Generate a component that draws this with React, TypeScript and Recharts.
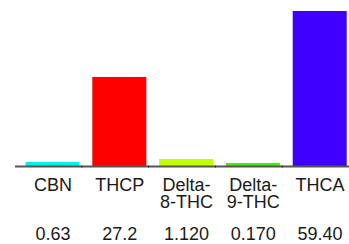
import { BarChart, Bar, XAxis, YAxis, Cell } from "recharts";

// ── data ──────────────────────────────────────────────────────────────────────
const categories = ["CBN", "THCP", "Delta-8-THC", "Delta-9-THC", "THCA"];
const labelLines = [["CBN"], ["THCP"], ["Delta-", "8-THC"], ["Delta-", "9-THC"], ["THCA"]];
const valueLabels = ["0.63", "27.2", "1.120", "0.170", "59.40"];
// bar heights as drawn (not proportional to the printed values)
const barHeights = [1.72, 34.2, 2.86, 1.34, 59.4];
const colors = ["#00f0f0", "#ff0000", "#c0ff00", "#44ee00", "#4000ff"];

// ── layout ────────────────────────────────────────────────────────────────────
const W = 349;
const H = 244;
const LEFT = 15;
const AXIS_H = 77.5;
const BASE_Y = H - AXIS_H;
const BAND = (W - LEFT) / categories.length;
const SHIFT = 4.5;
const FONT = "'Liberation Sans', Arial, Helvetica, sans-serif";

const data = categories.map((name, i) => ({ name, value: barHeights[i] }));

function ShiftedBar(props: any) {
  const { x, y, width, height, fill } = props;
  return <rect x={x + SHIFT} y={y} width={width} height={height} fill={fill} />;
}

function Tick(props: any) {
  const { x, payload } = props;
  const i = payload.index;
  const lines = labelLines[i];
  return (
    <g>
      {i < categories.length - 1 && (
        <line x1={x + BAND / 2} x2={x + BAND / 2} y1={BASE_Y - 1} y2={BASE_Y + 1} stroke="#222" strokeWidth={1} />
      )}
      <text x={x + SHIFT} y={BASE_Y + 24.5} textAnchor="middle" fontSize={18} fill="#1a1a1a" fontFamily={FONT}>
        {lines.map((l, k) => (
          <tspan key={k} x={x + SHIFT} dy={k === 0 ? 0 : 17}>{l}</tspan>
        ))}
      </text>
      <text x={x + SHIFT} y={BASE_Y + 73} textAnchor="middle" fontSize={18} fill="#1a1a1a" fontFamily={FONT}>
        {valueLabels[i]}
      </text>
    </g>
  );
}

export default function App() {
  return (
    <div style={{ position: "absolute", left: 0, top: 0, width: W, height: H, background: "#fff" }}>
      <BarChart width={W} height={H} data={data} margin={{ top: 11, right: 0, left: LEFT, bottom: 0 }} barSize={54}>
        <YAxis hide domain={[0, "dataMax"]} />
        <XAxis
          dataKey="name"
          height={AXIS_H}
          interval={0}
          tickLine={false}
          axisLine={{ stroke: "#555", strokeWidth: 2 }}
          tick={<Tick />}
        />
        <Bar dataKey="value" isAnimationActive={false} shape={<ShiftedBar />}>
          {data.map((d, i) => (
            <Cell key={d.name} fill={colors[i]} />
          ))}
        </Bar>
      </BarChart>
    </div>
  );
}
